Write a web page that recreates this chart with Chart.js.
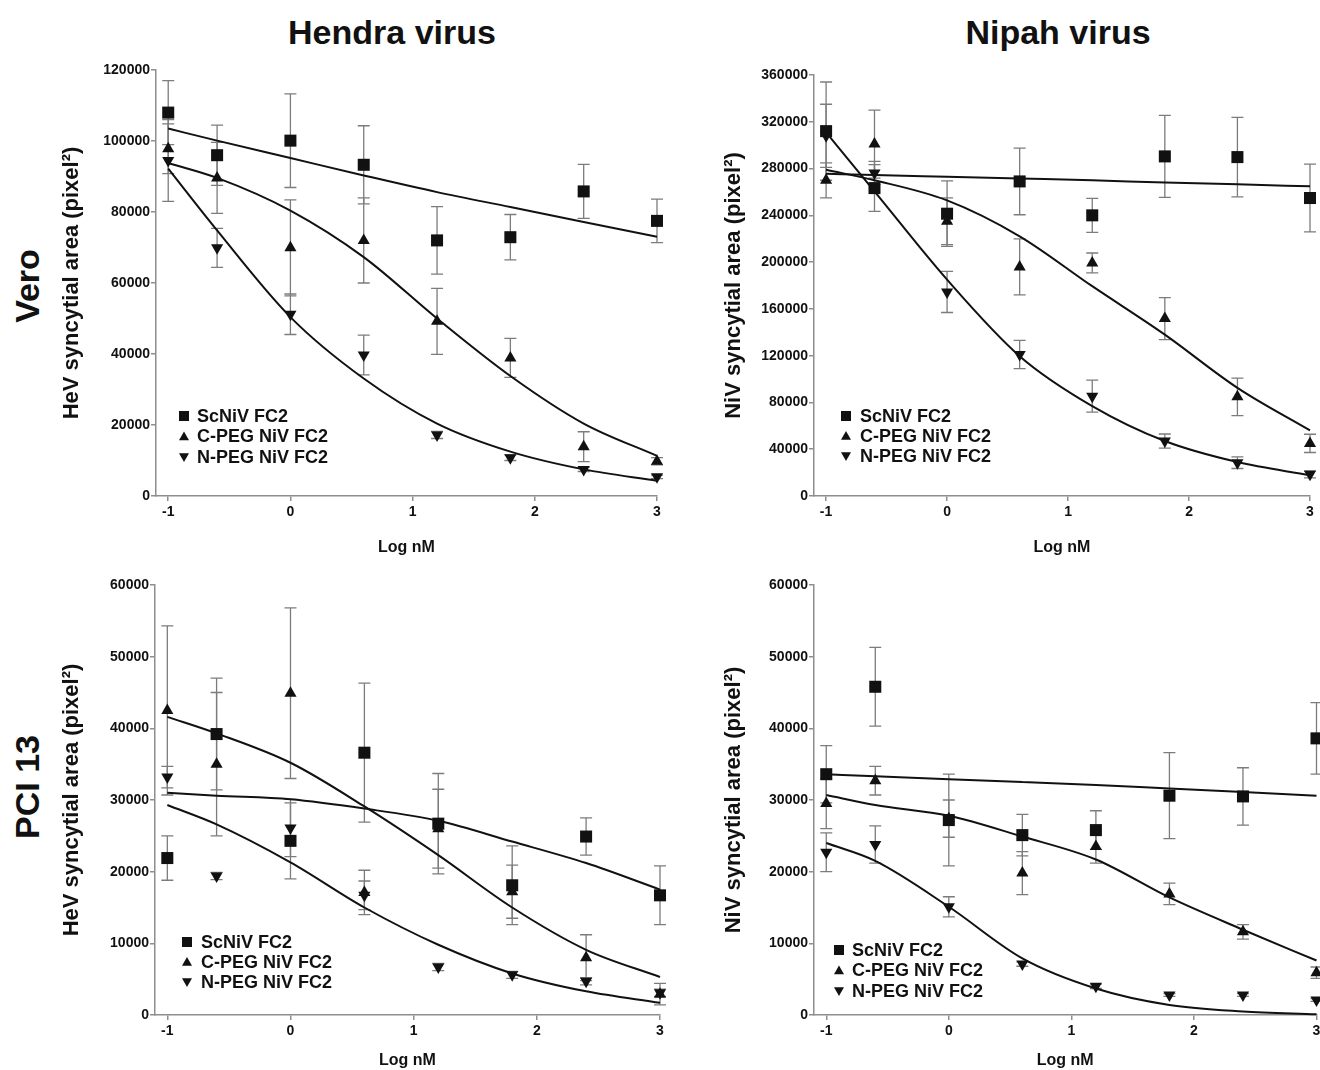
<!DOCTYPE html>
<html>
<head>
<meta charset="utf-8">
<title>Syncytia inhibition - Hendra / Nipah</title>
<script src="https://cdn.jsdelivr.net/npm/chart.js@4.4.1/dist/chart.umd.min.js"></script>
<style>
  html, body { margin: 0; padding: 0; background: #fff; width: 1320px; height: 1070px; overflow: hidden; }
  body { position: relative; font-family: "Liberation Sans", Arial, sans-serif; }
  canvas { position: absolute; }
  .head { position: absolute; font-weight: bold; font-size: 34px; color: #111; white-space: nowrap; transform: translate(-50%, -50%); }
  .row { position: absolute; font-weight: bold; font-size: 34px; color: #111; white-space: nowrap; transform: translate(-50%, -50%) rotate(-90deg); }
</style>
</head>
<body>
<div class="head" style="left:392px; top:32px;">Hendra virus</div>
<div class="head" style="left:1058px; top:32px;">Nipah virus</div>
<div class="row" style="left:27px; top:286px;">Vero</div>
<div class="row" style="left:27px; top:787px;">PCI 13</div>

<canvas id="hevVero" width="630" height="515" style="left:50px; top:50px;"></canvas>
<canvas id="nivVero" width="610" height="515" style="left:710px; top:50px;"></canvas>
<canvas id="hevPci" width="640" height="505" style="left:50px; top:565px;"></canvas>
<canvas id="nivPci" width="615" height="505" style="left:710px; top:565px;"></canvas>

<script>
// dose, log10 nM
const doseLog = [-1, -0.6, 0, 0.6, 1.2, 1.8, 2.4, 3];
const xTicks = [-1, 0, 1, 2, 3];
const seriesNames = ["ScNiV FC2", "C-PEG NiV FC2", "N-PEG NiV FC2"];

// Hendra virus, Vero cells
const hevVeroSc = [108000, 96000, 100100, 93300, 72000, 72900, 85800, 77500];
const hevVeroScErr = [9000, 8500, 13200, 11000, 9500, 6400, 7600, 6100];
const hevVeroC = [97800, 89600, 69900, 72000, 49200, 38900, 13900, 9800];
const hevVeroCErr = [7000, 10000, 13500, 12000, 9300, 5500, 4200, 1000];
const hevVeroN = [94500, 69900, 51200, 39700, 17200, 10800, 7500, 5400];
const hevVeroNErr = [11500, 5500, 5700, 5600, 1000, 800, 600, 500];
const hevVeroScFit = [103500, 100100, 95200, 90300, 85600, 81400, 77200, 73000];
const hevVeroCFit = [93800, 89600, 80400, 67300, 50000, 33800, 20400, 11300];
const hevVeroNFit = [92200, 74800, 50400, 33100, 20400, 12500, 7500, 4300];

// Nipah virus, Vero cells
const nivVeroSc = [312000, 263300, 241400, 269000, 240000, 290400, 289800, 254800];
const nivVeroScErr = [42000, 20000, 28000, 28500, 14500, 35000, 34000, 29000];
const nivVeroC = [269900, 300900, 234900, 195900, 199300, 151700, 84800, 45000];
const nivVeroCErr = [15000, 29000, 20000, 24000, 8500, 18000, 16000, 7800];
const nivVeroN = [308000, 276200, 174500, 121000, 85400, 47000, 28500, 18500];
const nivVeroNErr = [27000, 10000, 17600, 12000, 13700, 6000, 5000, 3000];
const nivVeroScFit = [275600, 274500, 273000, 271500, 270000, 268000, 266500, 264800];
const nivVeroCFit = [279000, 270000, 252800, 222100, 179400, 138000, 92500, 56100];
const nivVeroNFit = [310900, 260500, 185000, 119600, 76900, 47000, 29000, 17700];

// Hendra virus, PCI 13 cells
const hevPciSc = [21900, 39200, 24300, 36600, 26700, 18100, 24900, 16700];
const hevPciScErr = [3100, 7800, 5300, 9700, 7000, 5500, 2600, 4100];
const hevPciC = [42500, 35000, 44900, 17100, 26000, 17200, 8000, 2900];
const hevPciCErr = [11800, 10000, 11900, 3100, 5500, 3700, 3200, 1500];
const hevPciN = [33200, 19400, 26100, 16700, 6700, 5600, 4700, 3100];
const hevPciNErr = [1500, 500, 4000, 2000, 500, 500, 500, 500];
const hevPciScFit = [31000, 30600, 30100, 28800, 27100, 24200, 21200, 17500];
const hevPciCFit = [41600, 39300, 35200, 29100, 22300, 15000, 9100, 5300];
const hevPciNFit = [29300, 26600, 21300, 15000, 9800, 5800, 3300, 1700];

// Nipah virus, PCI 13 cells
const nivPciSc = [33600, 45800, 27200, 25100, 25800, 30600, 30500, 38600];
const nivPciScErr = [4000, 5500, 6400, 2900, 2700, 6000, 4000, 5000];
const nivPciC = [29500, 32700, 27400, 19800, 23500, 16900, 11600, 5900];
const nivPciCErr = [3500, 2000, 2600, 3000, 2300, 1500, 1000, 800];
const nivPciN = [22700, 23800, 15100, 7100, 4000, 2800, 2800, 2100];
const nivPciNErr = [2700, 2600, 1400, 300, 300, 200, 200, 200];
const nivPciScFit = [33600, 33300, 32900, 32500, 32100, 31600, 31100, 30600];
const nivPciCFit = [30700, 29300, 27800, 24900, 21700, 16400, 11900, 7600];
const nivPciNFit = [24000, 21500, 15100, 7900, 3700, 1400, 500, 100];

const fontFamily = "'Liberation Sans', Arial, sans-serif";
const ink = "#111";
const axisGrey = "#8e8e8e";
const markerKinds = ["square", "up", "down"];
Chart.defaults.font.family = fontFamily;

// vertical SEM bars, drawn under the markers
const errorBars = {
    id: "errorBars",
    beforeDatasetsDraw(chart) {
        const ctx = chart.ctx;
        const yScale = chart.scales.y;
        ctx.save();
        ctx.strokeStyle = "#7c7c7c";
        ctx.lineWidth = 1.3;
        chart.data.datasets.forEach((ds, i) => {
            if (!ds.errors) return;
            const meta = chart.getDatasetMeta(i);
            meta.data.forEach((pt, j) => {
                const e = ds.errors[j];
                if (!e) return;
                const v = ds.data[j].y;
                const top = yScale.getPixelForValue(v + e);
                const bot = yScale.getPixelForValue(Math.max(v - e, 0));
                ctx.beginPath();
                ctx.moveTo(pt.x, top);
                ctx.lineTo(pt.x, bot);
                ctx.moveTo(pt.x - 6, top);
                ctx.lineTo(pt.x + 6, top);
                ctx.moveTo(pt.x - 6, bot);
                ctx.lineTo(pt.x + 6, bot);
                ctx.stroke();
            });
        });
        ctx.restore();
    }
};

function drawMarker(ctx, kind, x, y, r) {
    ctx.beginPath();
    if (kind === "square") {
        ctx.rect(x - r, y - r, 2 * r, 2 * r);
    } else if (kind === "up") {
        ctx.moveTo(x, y - r);
        ctx.lineTo(x + r, y + r * 0.75);
        ctx.lineTo(x - r, y + r * 0.75);
    } else {
        ctx.moveTo(x, y + r);
        ctx.lineTo(x + r, y - r * 0.75);
        ctx.lineTo(x - r, y - r * 0.75);
    }
    ctx.closePath();
    ctx.fill();
}

// legend sitting inside the plot, lower left
const insetLegend = {
    id: "insetLegend",
    afterDatasetsDraw(chart, args, opts) {
        const { left, bottom } = chart.chartArea;
        const ctx = chart.ctx;
        ctx.save();
        ctx.fillStyle = ink;
        ctx.font = "bold 18px " + fontFamily;
        ctx.textBaseline = "middle";
        seriesNames.forEach((name, k) => {
            const y = bottom + opts.top + k * opts.gap;
            drawMarker(ctx, markerKinds[k], left + opts.mark, y, 5);
            ctx.fillText(name, left + opts.text, y + 1);
        });
        ctx.restore();
    }
};

function buildPanel(id, o) {
    const pts = vals => doseLog.map((x, i) => ({ x: x, y: vals[i] }));
    const datasets = [];

    // fitted dose-response curves
    o.fits.forEach(f => {
        datasets.push({
            data: pts(f),
            showLine: true,
            borderColor: ink,
            borderWidth: 2,
            pointRadius: 0,
            cubicInterpolationMode: "monotone",
            clip: false
        });
    });

    // measured means
    const styles = [
        { pointStyle: "rect", pointRadius: 8.5, rotation: 0 },
        { pointStyle: "triangle", pointRadius: 7, rotation: 0 },
        { pointStyle: "triangle", pointRadius: 7, rotation: 180 }
    ];
    o.means.forEach((m, k) => {
        datasets.push({
            label: seriesNames[k],
            data: pts(m),
            errors: o.errs[k],
            pointStyle: styles[k].pointStyle,
            pointRadius: styles[k].pointRadius,
            pointRotation: styles[k].rotation,
            pointBackgroundColor: ink,
            pointBorderColor: ink,
            pointBorderWidth: 0,
            showLine: false,
            clip: false
        });
    });

    const tickFont = { size: 14, weight: "bold", family: fontFamily };

    new Chart(document.getElementById(id), {
        type: "scatter",
        data: { datasets: datasets },
        plugins: [errorBars, insetLegend],
        options: {
            responsive: false,
            animation: false,
            events: [],
            layout: { padding: { top: o.padTop, right: o.padRight, left: 0, bottom: 0 } },
            plugins: {
                legend: { display: false },
                tooltip: { enabled: false },
                insetLegend: o.legend
            },
            scales: {
                x: {
                    type: "linear",
                    min: -1.1,
                    max: 3,
                    afterBuildTicks: axis => { axis.ticks = xTicks.map(v => ({ value: v })); },
                    ticks: { color: ink, font: tickFont, padding: 3, maxRotation: 0, callback: v => String(v) },
                    grid: { drawOnChartArea: false, tickLength: 5, color: axisGrey, lineWidth: 1.5 },
                    border: { color: axisGrey, width: 1.5 },
                    title: {
                        display: true,
                        text: "Log nM",
                        color: ink,
                        font: { size: 16, weight: "bold", family: fontFamily },
                        padding: { top: 0, bottom: o.xTitlePad }
                    },
                    afterFit: s => { s.height = o.xHeight; }
                },
                y: {
                    min: 0,
                    max: o.yMax,
                    ticks: { stepSize: o.yStep, color: ink, font: tickFont, padding: 1, callback: v => String(v) },
                    grid: { drawOnChartArea: false, tickLength: 5, color: axisGrey, lineWidth: 1.5 },
                    border: { color: axisGrey, width: 1.5 },
                    title: {
                        display: true,
                        text: o.yTitle,
                        color: ink,
                        font: { size: 22, weight: "bold", family: fontFamily },
                        padding: { top: o.yTitlePad, bottom: 0 }
                    },
                    afterFit: s => { s.width = o.yWidth; }
                }
            }
        }
    });
}

buildPanel("hevVero", {
    means: [hevVeroSc, hevVeroC, hevVeroN],
    errs: [hevVeroScErr, hevVeroCErr, hevVeroNErr],
    fits: [hevVeroScFit, hevVeroCFit, hevVeroNFit],
    yMax: 120000, yStep: 20000,
    yTitle: "HeV syncytial area (pixel²)",
    padTop: 20, padRight: 23, yWidth: 106, xHeight: 69, yTitlePad: 9, xTitlePad: 8,
    legend: { mark: 28, text: 41, top: -80, gap: 20.5 }
});

buildPanel("nivVero", {
    means: [nivVeroSc, nivVeroC, nivVeroN],
    errs: [nivVeroScErr, nivVeroCErr, nivVeroNErr],
    fits: [nivVeroScFit, nivVeroCFit, nivVeroNFit],
    yMax: 360000, yStep: 40000,
    yTitle: "NiV syncytial area (pixel²)",
    padTop: 25, padRight: 10, yWidth: 104, xHeight: 69, yTitlePad: 11, xTitlePad: 8,
    legend: { mark: 32, text: 46, top: -80, gap: 20 }
});

buildPanel("hevPci", {
    means: [hevPciSc, hevPciC, hevPciN],
    errs: [hevPciScErr, hevPciCErr, hevPciNErr],
    fits: [hevPciScFit, hevPciCFit, hevPciNFit],
    yMax: 60000, yStep: 10000,
    yTitle: "HeV syncytial area (pixel²)",
    padTop: 20, padRight: 30, yWidth: 105, xHeight: 55, yTitlePad: 9, xTitlePad: 0,
    legend: { mark: 32, text: 46, top: -73, gap: 20 }
});

buildPanel("nivPci", {
    means: [nivPciSc, nivPciC, nivPciN],
    errs: [nivPciScErr, nivPciCErr, nivPciNErr],
    fits: [nivPciScFit, nivPciCFit, nivPciNFit],
    yMax: 60000, yStep: 10000,
    yTitle: "NiV syncytial area (pixel²)",
    padTop: 20, padRight: 7, yWidth: 104, xHeight: 55, yTitlePad: 11, xTitlePad: 0,
    legend: { mark: 25, text: 38, top: -65, gap: 20.5 }
});
</script>
</body>
</html>
